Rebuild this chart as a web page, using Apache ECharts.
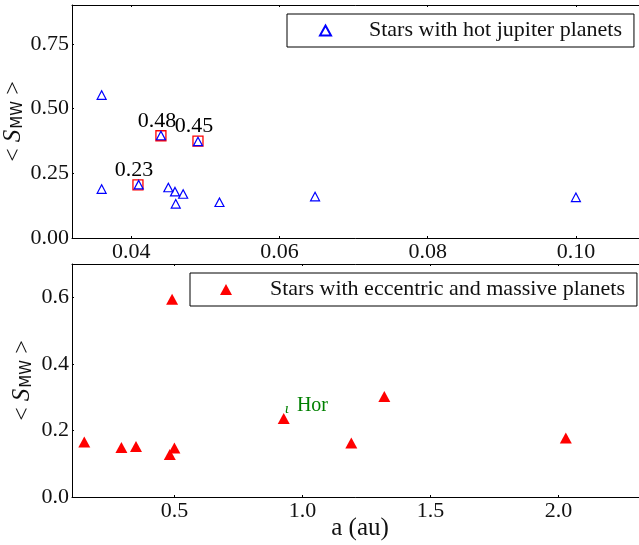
<!DOCTYPE html>
<html>
<head>
<meta charset="utf-8">
<script src="https://cdn.jsdelivr.net/npm/echarts@6/dist/echarts.min.js"></script>
<style>
html, body { margin: 0; padding: 0; background: #fff; }
#main { width: 639px; height: 545px; }
</style>
</head>
<body>
<div id="main"></div>
<script>
// hot jupiter hosts (top panel)
var hotA = [0.036, 0.036, 0.041, 0.044, 0.049, 0.045, 0.0459, 0.046, 0.047, 0.0519, 0.0648, 0.100];
var hotS = [0.552, 0.189, 0.206, 0.396, 0.373, 0.195, 0.179, 0.132, 0.170, 0.138, 0.160, 0.157];

// marked stars with their annotation
var markA = [0.0409, 0.044, 0.049];
var markS = [0.205, 0.395, 0.374];
var markText = ['0.23', '0.48', '0.45'];

// eccentric and massive planets hosts (bottom panel)
var eccA = [0.148, 0.293, 0.350, 0.482, 0.500, 0.491, 0.927, 1.191, 1.320, 2.029];
var eccS = [0.165, 0.149, 0.152, 0.128, 0.147, 0.594, 0.236, 0.162, 0.302, 0.177];
var eccName = ['', '', '', '', '', '', 'Hor', '', '', ''];

var font = 'Liberation Serif';
var black = '#111';

function pairs(xs, ys, names) {
    var out = [];
    for (var i = 0; i < xs.length; i++) {
        var d = { value: [xs[i], ys[i]] };
        if (names) d.name = names[i];
        out.push(d);
    }
    return out;
}

var yName = {
    name: '{t|< }{s|S}{m|MW}{t| >}',
    nameTextStyle: {
        rich: {
            t: { fontFamily: font, fontSize: 24, color: black },
            s: { fontFamily: font, fontSize: 25, fontStyle: 'italic', color: black },
            m: { fontFamily: 'DejaVu Sans', fontSize: 15, color: black, padding: [10, 0, 0, 1] }
        }
    }
};

function axisCommon() {
    return {
        nameMoveOverlap: false,
        axisLine: { show: true, onZero: false, lineStyle: { color: '#000', width: 1 } },
        axisTick: { show: true, inside: true, length: 2, lineStyle: { color: '#000' } },
        splitLine: { show: false }
    };
}

function mk(extra) {
    var o = axisCommon();
    for (var k in extra) o[k] = extra[k];
    return o;
}

function tickLabel(dec, hideMin) {
    return {
        fontFamily: font, fontSize: 22, color: black, margin: 3,
        showMinLabel: !hideMin, showMaxLabel: false,
        formatter: function (v) { return v.toFixed(dec); }
    };
}

var option = {
    animation: false,
    backgroundColor: '#fff',
    grid: [
        { left: 72, top: 5, width: 578, height: 233, containLabel: false, outerBoundsMode: 'none' },
        { left: 72, top: 264, width: 576, height: 233, containLabel: false, outerBoundsMode: 'none' }
    ],
    legend: [{
        data: ['Stars with hot jupiter planets'],
        left: 287, top: 14,
        orient: 'horizontal',
        borderColor: '#000', borderWidth: 1, borderRadius: 0,
        backgroundColor: '#fff',
        padding: [5, 12, 5, 32],
        itemWidth: 11, itemHeight: 10,
        textStyle: { fontFamily: font, fontSize: 22, color: black, lineHeight: 23, padding: [0, 0, 0, 33] }
    }, {
        data: ['Stars with eccentric and massive planets'],
        left: 190, top: 273,
        orient: 'horizontal',
        borderColor: '#000', borderWidth: 1, borderRadius: 0,
        backgroundColor: '#fff',
        padding: [5, 12, 5, 30],
        itemWidth: 12, itemHeight: 11,
        textStyle: { fontFamily: font, fontSize: 22, color: black, lineHeight: 23, padding: [0, 0, 0, 33] }
    }],
    xAxis: [
        mk({ gridIndex: 0, type: 'value', min: 0.032, max: 0.11, splitNumber: 4, axisLabel: tickLabel(2, true) }),
        mk({ gridIndex: 0, type: 'value', position: 'top', min: 0.032, max: 0.11, splitNumber: 4, axisLabel: { show: false } }),
        mk({ gridIndex: 1, type: 'value', min: 0.1, max: 2.35, splitNumber: 4,
             name: 'a (au)', nameLocation: 'middle', nameGap: 19,
             nameTextStyle: { fontFamily: font, fontSize: 25, color: black },
             axisLabel: tickLabel(1, true) }),
        mk({ gridIndex: 1, type: 'value', position: 'top', min: 0.1, max: 2.35, splitNumber: 4, axisLabel: { show: false } })
    ],
    yAxis: [
        mk({ gridIndex: 0, type: 'value', min: 0, max: 0.9, interval: 0.25,
             name: yName.name, nameLocation: 'middle', nameRotate: 90, nameGap: 46, nameTextStyle: yName.nameTextStyle,
             axisLabel: tickLabel(2, false) }),
        mk({ gridIndex: 1, type: 'value', min: 0, max: 0.7, interval: 0.2,
             name: yName.name, nameLocation: 'middle', nameRotate: 90, nameGap: 37, nameTextStyle: yName.nameTextStyle,
             axisLabel: tickLabel(1, false) })
    ],
    series: [{
        name: 'marked',
        type: 'scatter',
        xAxisIndex: 0, yAxisIndex: 0,
        symbol: 'rect',
        symbolSize: 10,
        itemStyle: { color: 'transparent', borderColor: '#ff0000', borderWidth: 1.3, opacity: 1 },
        label: {
            show: true,
            position: 'inside',
            offset: [-4, -15],
            fontFamily: font, fontSize: 22, color: '#000',
            formatter: function (p) { return markText[p.dataIndex]; }
        },
        data: pairs(markA, markS),
        z: 2
    }, {
        name: 'Stars with hot jupiter planets',
        type: 'scatter',
        xAxisIndex: 0, yAxisIndex: 0,
        symbol: 'triangle',
        symbolSize: [9, 8.5],
        itemStyle: { color: 'transparent', borderColor: '#0000ff', borderWidth: 1.2, opacity: 1 },
        data: pairs(hotA, hotS),
        z: 3
    }, {
        name: 'Stars with eccentric and massive planets',
        type: 'scatter',
        xAxisIndex: 2, yAxisIndex: 1,
        symbol: 'triangle',
        symbolSize: [12, 11],
        itemStyle: { color: '#ff0000', opacity: 1 },
        label: {
            show: true,
            position: [7, -7],
            align: 'left',
            verticalAlign: 'middle',
            formatter: function (p) { return p.name ? '{i|ι}{h|' + p.name + '}' : ''; },
            rich: {
                i: { fontFamily: font, fontSize: 15, fontStyle: 'italic', color: '#008000', padding: [6, 0, 0, 0] },
                h: { fontFamily: font, fontSize: 20, color: '#008000', padding: [0, 0, 0, 8] }
            }
        },
        data: pairs(eccA, eccS, eccName)
    }]
};

var myChart = echarts.init(document.getElementById('main'));
myChart.setOption(option);
</script>
</body>
</html>
